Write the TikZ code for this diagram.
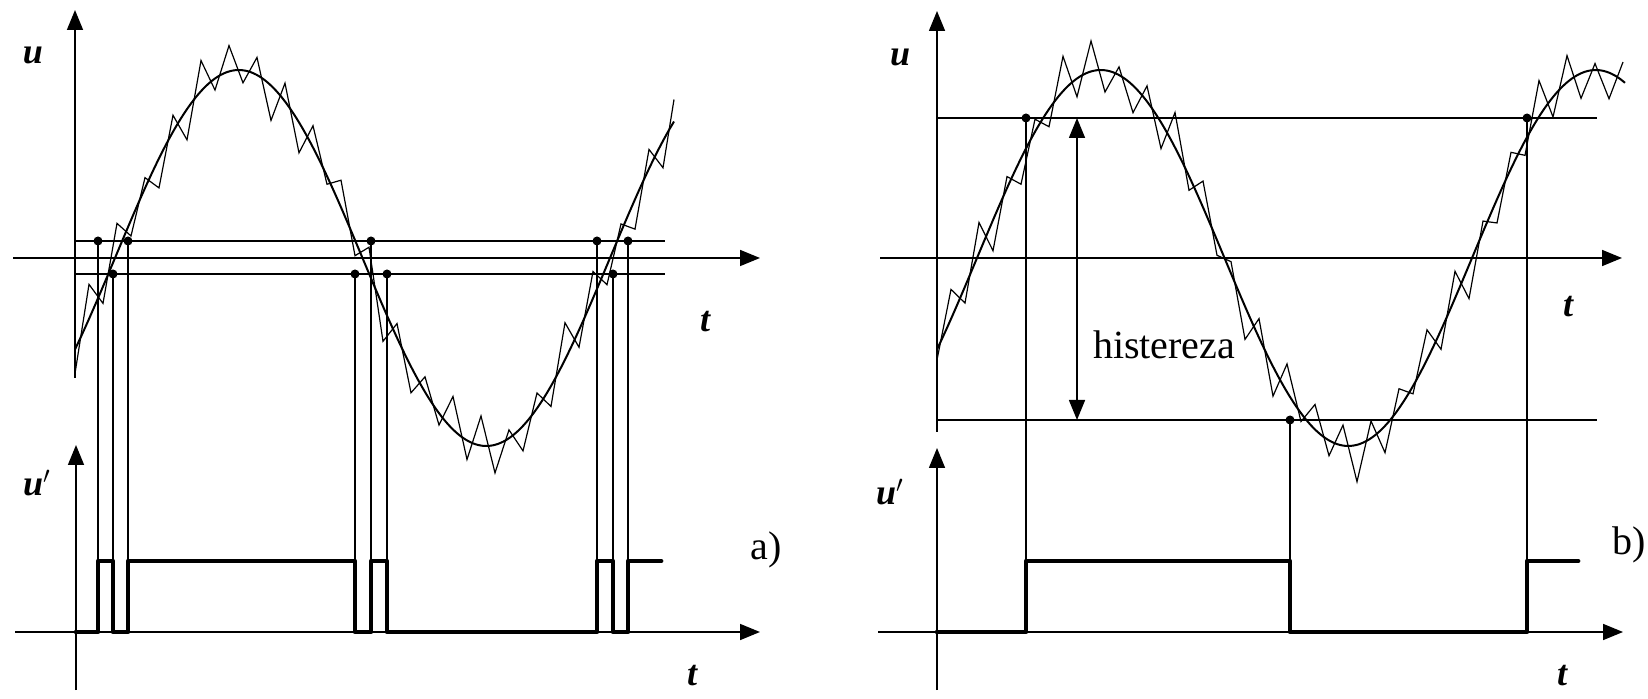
\documentclass[tikz,border=0pt]{standalone}
\usepackage{fontspec}
\setmainfont{Liberation Serif}
\usetikzlibrary{arrows.meta}
\begin{document}
\begin{tikzpicture}[x=0.5pt,y=-0.5pt,
  axis/.style={line width=0.8pt,-{Triangle[length=10pt,width=8pt]}},
  thin/.style={line width=0.7pt},
  thr/.style={line width=0.9pt},
  pulse/.style={line width=2.4pt,line join=round,line cap=round},
  sig/.style={line width=1pt},
  noisy/.style={line width=0.6pt},
  dot/.style={circle,fill,inner sep=0pt,minimum size=4.5pt},
  lab/.style={font=\fontsize{18}{18}\selectfont\bfseries\itshape},
  big/.style={font=\fontsize{20}{20}\selectfont},
  declare function={sa(\x)=258-188*sin((\x-115)*0.7272727);
                    sb(\x)=258-188*sin((\x-977)*0.7272727);
                    amp(\k)=22+10*sin(137*\k)+6*sin(53*\k+20);}
]
\useasboundingbox (0,0) rectangle (1648,699);

% ---------- panel a ----------
\coordinate (aTop) at (75,10);
\coordinate (aBot) at (75,378);
\coordinate (aL) at (13,258);
\coordinate (aR) at (760,258);
\draw[axis] (aBot) -- (aTop);
\draw[axis] (aL) -- (aR);
\draw[thr] (75,241) -- (665,241);
\draw[thr] (75,274) -- (665,274);

% signal a
\draw[sig] plot[domain=75:674,samples=120,smooth] (\x,{sa(\x)});
\draw[noisy] plot[domain=0:42,samples=43] ({75+14*\x},{sa(75+14*\x)+amp(\x)*cos(180*\x)}) -- (674,{sa(674)-22});

% lower axes a
\coordinate (a2Top) at (76,445);
\coordinate (a2Bot) at (76,690);
\coordinate (a2L) at (15,632);
\coordinate (a2R) at (760,632);
\draw[axis] (a2Bot) -- (a2Top);
\draw[axis] (a2L) -- (a2R);

% switching points a
\foreach \xx/\yy [count=\i] in {98/241,113/274,128/241,355/274,371/241,387/274,597/241,613/274,628/241}{
  \node[dot] (ad\i) at (\xx,\yy) {};
  \draw[thin] (ad\i.center) -- (\xx,632);
}
\draw[pulse] (76,632) -- (98,632) -- (98,561) -- (113,561) -- (113,632) -- (128,632) -- (128,561)
  -- (355,561) -- (355,632) -- (371,632) -- (371,561) -- (387,561) -- (387,632)
  -- (597,632) -- (597,561) -- (613,561) -- (613,632) -- (628,632) -- (628,561) -- (661,561);

\node[lab] (ua) at (33,55) {u};
\node[lab] (ta) at (705,322) {t};
\node[lab] (upa) at (37,483) {u$'$};
\node[lab] (ta2) at (692,676) {t};
\node[big] (la) at (766,550) {a)};

% ---------- panel b ----------
\coordinate (bTop) at (937,11);
\coordinate (bBot) at (937,432);
\coordinate (bL) at (880,258);
\coordinate (bR) at (1622,258);
\draw[axis] (bBot) -- (bTop);
\draw[axis] (bL) -- (bR);
\draw[thr] (937,118) -- (1597,118);
\draw[thr] (937,420) -- (1597,420);

\draw[sig] plot[domain=937:1625,samples=130,smooth] (\x,{sb(\x)});
\draw[noisy] plot[domain=0:49,samples=50] ({937+14*\x},{sb(937+14*\x)+amp(\x+5)*cos(180*\x)});

\coordinate (b2Top) at (937,448);
\coordinate (b2Bot) at (937,690);
\coordinate (b2L) at (878,632);
\coordinate (b2R) at (1623,632);
\draw[axis] (b2Bot) -- (b2Top);
\draw[axis] (b2L) -- (b2R);

\foreach \xx/\yy [count=\i] in {1026/118,1290/420,1527/118}{
  \node[dot] (bd\i) at (\xx,\yy) {};
  \draw[thin] (bd\i.center) -- (\xx,632);
}
\draw[pulse] (937,632) -- (1026,632) -- (1026,561) -- (1290,561) -- (1290,632) -- (1527,632) -- (1527,561) -- (1578,561);

% hysteresis arrow
\coordinate (hT) at (1077,118);
\coordinate (hB) at (1077,420);
\draw[line width=0.8pt,{Triangle[length=10pt,width=8pt]}-{Triangle[length=10pt,width=8pt]}] (hT) -- (hB);
\node[big,anchor=west] (hist) at (1086,345) {histereza};

\node[lab] (ub) at (900,57) {u};
\node[lab] (tb) at (1568,307) {t};
\node[lab] (upb) at (890,492) {u$'$};
\node[lab] (tb2) at (1562,676) {t};
\node[big] (lb) at (1629,545) {b)};
\end{tikzpicture}
\end{document}
